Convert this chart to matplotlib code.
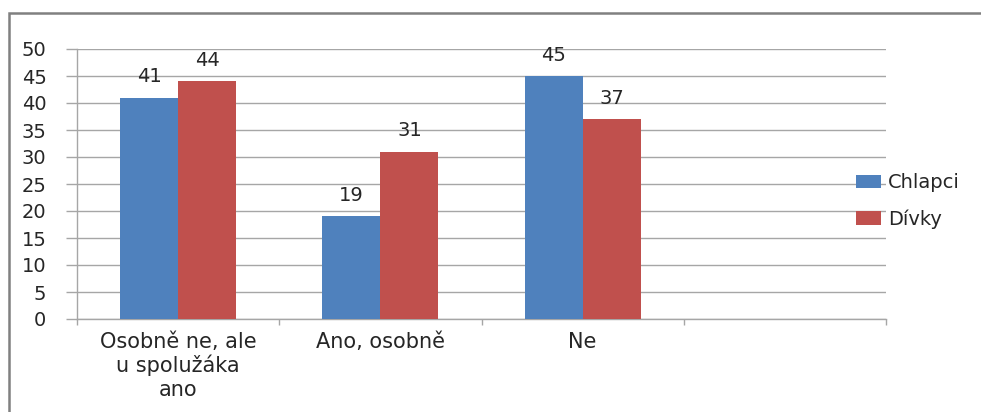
import matplotlib
matplotlib.use("Agg")
import matplotlib.pyplot as plt
from matplotlib.patches import Rectangle
import numpy as np

categories = ["Osobně ne, ale\nu spolužáka\nano", "Ano, osobně", "Ne", ""]
chlapci = [41, 19, 45, np.nan]
divky = [44, 31, 37, np.nan]
series_names = ["Chlapci", "Dívky"]
yticks = [0, 5, 10, 15, 20, 25, 30, 35, 40, 45, 50]

plt.rcParams['font.family'] = ['DejaVu Sans']
W, H = 981, 412
fig = plt.figure(figsize=(W / 100, H / 100), dpi=100)
ax = fig.add_axes([77 / W, 1 - 319 / H, (886 - 77) / W, (319 - 49) / H])

x = np.arange(len(categories))
bw = 0.287
grid_c = "#a6a6a6"
txt_c = "#262626"
b1 = ax.bar(x - bw / 2, chlapci, bw, color="#4F81BD", label=series_names[0], zorder=3)
b2 = ax.bar(x + bw / 2, divky, bw, color="#C0504D", label=series_names[1], zorder=3)

for bars, vals in ((b1, chlapci), (b2, divky)):
    for rect, v in zip(bars, vals):
        if np.isnan(v):
            continue
        ax.annotate(f"{int(v)}", (rect.get_x() + rect.get_width() / 2, v),
                    xytext=(0, 15), textcoords="offset points",
                    ha="center", va="center", fontsize=14, color=txt_c)

ax.set_xlim(-0.5, len(categories) - 0.5)
ax.set_ylim(0, 50)
ax.set_yticks(yticks)
ax.set_yticklabels([str(t) for t in yticks], fontsize=14)
ax.yaxis.grid(True, color=grid_c, linewidth=1.0, zorder=0)
ax.set_axisbelow(True)
ax.tick_params(axis="y", length=8, width=1.0, color=grid_c, pad=14, labelcolor=txt_c)

# category boundary ticks (major) and labels at centers (minor)
ax.set_xticks(np.arange(len(categories) + 1) - 0.5)
ax.set_xticklabels([])
ax.tick_params(axis="x", which="major", length=4, width=1.0, color=grid_c, direction="out")
ax.set_xticks(x, minor=True)
ax.set_xticklabels(categories, minor=True, fontsize=15, color=txt_c, linespacing=1.2)
ax.tick_params(axis="x", which="minor", length=0, pad=9)

for s in ("top", "right"):
    ax.spines[s].set_visible(False)
for s in ("left", "bottom"):
    ax.spines[s].set_color(grid_c)
    ax.spines[s].set_linewidth(1.0)

fig.legend(handles=[b1, b2], labels=series_names, loc="center left",
           bbox_to_anchor=(856 / W, 1 - 201 / H), frameon=False,
           fontsize=14, handlelength=1.3, handleheight=0.7, handletextpad=0.35,
           labelspacing=0.85, borderaxespad=0, borderpad=0, labelcolor=txt_c)

frame = Rectangle((9 / W, -0.1), 1.2, 1 - 13 / H + 0.1, transform=fig.transFigure,
                  fill=False, edgecolor="#808080", linewidth=1.8, clip_on=False)
fig.patches.append(frame)

fig.savefig("out.png", dpi=100)
